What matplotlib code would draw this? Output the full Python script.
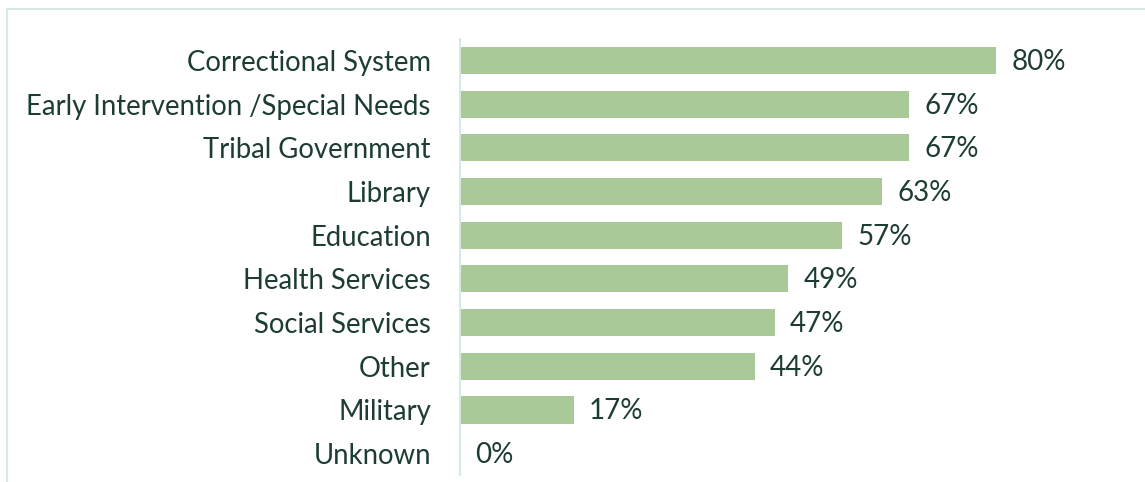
import matplotlib
matplotlib.use("Agg")
import matplotlib.pyplot as plt
from matplotlib.lines import Line2D

categories = ["Correctional System", "Early Intervention /Special Needs", "Tribal Government",
              "Library", "Education", "Health Services", "Social Services", "Other",
              "Military", "Unknown"]
values = [80, 67, 67, 63, 57, 49, 47, 44, 17, 0]

bar_color = "#a9c998"
text_color = "#1d3d31"
frame_color = "#d3ebe4"

plt.rcParams["font.family"] = ["Lato", "DejaVu Sans"]

W, H = 1145, 482
fig = plt.figure(figsize=(W / 100, H / 100), dpi=100)
# axes in pixel units: left edge at the value axis, top/bottom spanning the bars
left, right, top, bottom = 460, 1130, 38.6, 475.5
ax = fig.add_axes([left / W, 1 - bottom / H, (right - left) / W, (bottom - top) / H])

y = list(range(len(categories)))
ax.barh(y, values, height=0.62, color=bar_color)
ax.set_ylim(len(categories) - 0.5, -0.5)
ax.set_xlim(0, 100)

ax.set_yticks(y)
ax.set_yticklabels(categories, fontsize=19.8, color=text_color)
ax.tick_params(axis="y", length=0, pad=21)
ax.set_xticks([])

for i, v in enumerate(values):
    ax.annotate(f"{v}%", xy=(v, i), xytext=(11, -1), textcoords="offset points",
                va="center", ha="left", fontsize=20, color=text_color)

for s in ["top", "right", "bottom"]:
    ax.spines[s].set_visible(False)
ax.spines["left"].set_color(frame_color)
ax.spines["left"].set_linewidth(1.5)

# outer frame (top and left edges)
fig.add_artist(Line2D([7 / W, 1], [1 - 9 / H, 1 - 9 / H], color=frame_color, linewidth=1.5))
fig.add_artist(Line2D([7 / W, 7 / W], [0, 1 - 9 / H], color=frame_color, linewidth=1.5))

fig.savefig("out.png", dpi=100, facecolor="white")
